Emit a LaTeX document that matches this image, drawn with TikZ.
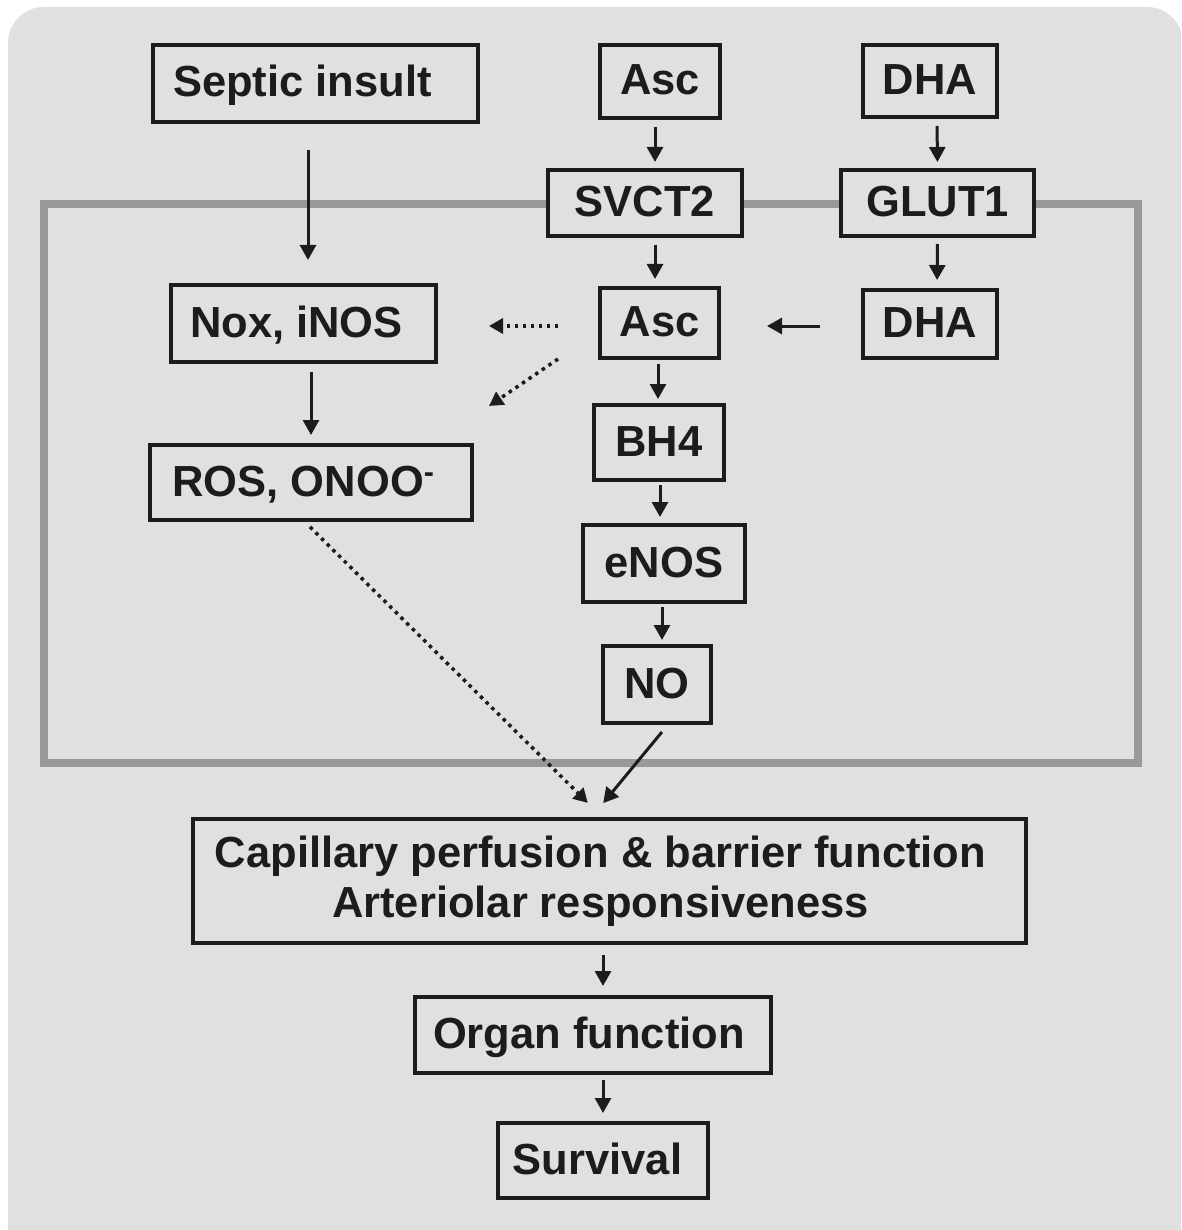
\documentclass[tikz,border=0pt]{standalone}
\usepackage{fontspec}
\setmainfont{Liberation Sans}
\usetikzlibrary{arrows.meta}
\definecolor{bgc}{HTML}{E0E0E0}
\definecolor{memc}{HTML}{999999}
\definecolor{ink}{HTML}{1C1C1C}
\begin{document}
\begin{tikzpicture}[x=1pt,y=-1pt,
  basebox/.style={draw=ink, line width=4pt, fill=bgc, inner sep=0pt,
    font=\fontsize{43.5}{50}\selectfont\bfseries, text=ink},
  box/.style={basebox, text height=31pt, text depth=4pt},
  arr/.style={draw=ink, line width=3pt, -{Triangle[length=15pt,width=16pt]}},
  darr/.style={draw=ink, line width=3.5pt, dash pattern=on 3.5pt off 4.5pt,
    -{Triangle[length=14pt,width=15pt]}}]
\useasboundingbox (0,0) rectangle (1181,1230);
\clip (0,0) rectangle (1181,1230);
\fill[bgc, rounded corners=36pt] (8,7) rectangle (1183,1270);
% cell membrane
\draw[memc, line width=8pt] (44,204) rectangle (1138,763);
% nodes
\node[box, minimum width=325, minimum height=77] (sept) at (315.5,83.5) {Septic insult\kern26pt};
\node[box, minimum width=120, minimum height=73] (ascT) at (660,81.5) {Asc};
\node[box, minimum width=134, minimum height=72] (dhaT) at (930,81) {DHA};
\node[box, minimum width=194, minimum height=66] (svct) at (645,203) {SVCT2};
\node[box, minimum width=193, minimum height=66] (glut) at (937.5,203) {GLUT1};
\node[box, minimum width=265, minimum height=77] (nox) at (303.5,323.5) {Nox, iNOS\kern14pt};
\node[box, minimum width=119, minimum height=70] (ascM) at (659.5,323) {Asc};
\node[box, minimum width=134, minimum height=68] (dhaM) at (930,324) {DHA};
\node[box, minimum width=130, minimum height=75] (bh4) at (659,442.5) {BH4};
\node[box, minimum width=322, minimum height=75] (ros) at (311,482.5) {ROS, ONOO\raisebox{4pt}{\textsuperscript{-}}\kern15pt};
\node[box, minimum width=162, minimum height=77] (enos) at (664,563.5) {eNOS};
\node[box, minimum width=108, minimum height=77] (no) at (657,684.5) {NO};
\node[basebox, minimum width=833, minimum height=124, align=center] (cap) at (609.5,881)
  {Capillary perfusion \& barrier function\kern18pt\\Arteriolar responsiveness\kern18pt};
\node[box, minimum width=356, minimum height=76] (organ) at (593,1035) {Organ function\kern8pt};
\node[box, minimum width=210, minimum height=75] (surv) at (603,1160.5) {Survival\kern11pt};
% connectors
\draw[arr, shorten <=26pt, shorten >=23pt] ([xshift=-7.5pt]sept.south) -- ([xshift=4.5pt]nox.north);
\draw[arr, shorten <=8pt, shorten >=8pt] ([xshift=7.5pt]nox.south) -- (ros.north);
\draw[arr, shorten <=7pt, shorten >=6pt] ([xshift=-5pt]ascT.south) -- ([xshift=10pt]svct.north);
\draw[arr, shorten <=7pt, shorten >=7pt] ([xshift=10pt]svct.south) -- ([xshift=-4.5pt]ascM.north);
\draw[arr, shorten <=7pt, shorten >=6pt] ([xshift=7pt]dhaT.south) -- (glut.north);
\draw[arr, shorten <=6pt, shorten >=8pt] (glut.south) -- ([xshift=7pt]dhaM.north);
\draw[arr, shorten <=41pt, shorten >=46pt] ([yshift=-2pt]dhaM.west) -- ([yshift=-3pt]ascM.east);
\draw[darr, shorten <=40pt, shorten >=51pt] ([yshift=-3pt]ascM.west) -- ([yshift=-2.5pt]nox.east);
\draw[darr] ([xshift=-40pt,yshift=1pt]ascM.south west) -- ([xshift=15pt,yshift=37pt]ros.north east);
\draw[arr, shorten <=4pt, shorten >=4pt] ([xshift=-1.5pt]ascM.south) -- ([xshift=-1pt]bh4.north);
\draw[arr, shorten <=3pt, shorten >=6pt] ([xshift=1pt]bh4.south) -- ([xshift=-4pt]enos.north);
\draw[arr, shorten <=3pt, shorten >=4pt] ([xshift=-2pt]enos.south) -- ([xshift=5pt]no.north);
\draw[arr, shorten <=9pt, shorten >=18pt] ([xshift=10.7pt]no.south) -- ([xshift=-17.8pt]cap.north);
\draw[darr, shorten <=7pt, shorten >=20pt] ([xshift=-6pt]ros.south) -- ([xshift=-7.5pt]cap.north);
\draw[arr, shorten <=10pt, shorten >=9pt] ([xshift=-6.5pt]cap.south) -- ([xshift=10pt]organ.north);
\draw[arr, shorten <=5pt, shorten >=8pt] ([xshift=10pt]organ.south) -- (surv.north);
\end{tikzpicture}
\end{document}
